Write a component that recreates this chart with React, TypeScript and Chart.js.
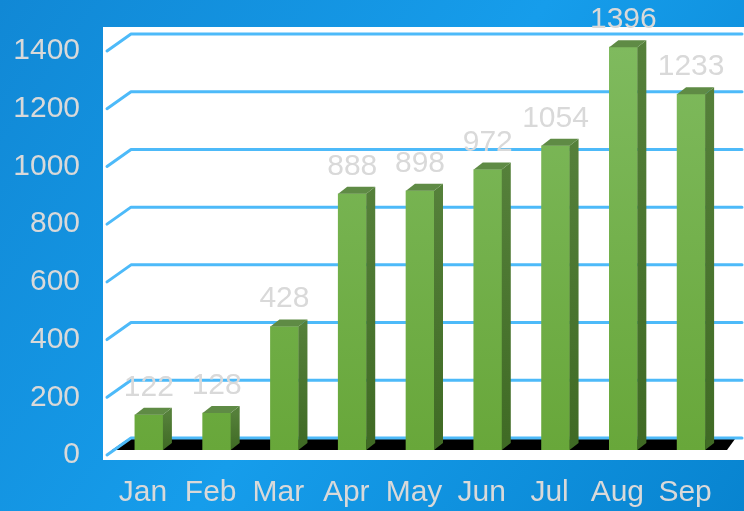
import React, { useEffect, useRef } from "react";
import { Chart, registerables } from "chart.js";

Chart.register(...registerables);

const months = ["Jan", "Feb", "Mar", "Apr", "May", "Jun", "Jul", "Aug", "Sep"];
const values = [122, 128, 428, 888, 898, 972, 1054, 1396, 1233];
const yMin = 0;
const yMax = 1400;
const yStep = 200;

const FONT = "'Liberation Sans', Arial, sans-serif";
const TEXT = "#d9d9d9";
const GRID = "#4dbaf9";
const DX = 9;
const DY = 7;

const decor = {
  id: "decor",
  beforeDraw(chart: any) {
    const { ctx, width, height, chartArea } = chart;
    ctx.save();
    const g = ctx.createLinearGradient(0, 0, width, height);
    g.addColorStop(0, "#1188d5");
    g.addColorStop(0.5, "#169deb");
    g.addColorStop(1, "#0884d0");
    ctx.fillStyle = g;
    ctx.fillRect(0, 0, width, height);
    ctx.fillStyle = "#ffffff";
    ctx.fillRect(chartArea.left - 12, chartArea.top - 19, width - (chartArea.left - 12), chartArea.bottom + 10 - (chartArea.top - 19));
    ctx.restore();
  },
  beforeDatasetsDraw(chart: any) {
    const { ctx, width, chartArea, scales } = chart;
    const y = scales.y;
    const L = chartArea.left;
    const R = chartArea.right;
    const B = chartArea.bottom;
    ctx.save();
    ctx.fillStyle = "#000000";
    ctx.beginPath();
    ctx.moveTo(L - 3, B);
    ctx.lineTo(R + 2, B);
    ctx.lineTo(R + 10, B - 11);
    ctx.lineTo(L + 13, B - 11);
    ctx.closePath();
    ctx.fill();
    ctx.strokeStyle = GRID;
    ctx.lineWidth = 3;
    ctx.lineCap = "round";
    ctx.lineJoin = "round";
    for (const t of y.ticks) {
      const py = y.getPixelForValue(t.value);
      ctx.beginPath();
      ctx.moveTo(L - 8, py + 5);
      ctx.lineTo(L + 16, py - 12);
      ctx.lineTo(width - 2, py - 12);
      ctx.stroke();
    }
    ctx.restore();
  },
  afterDatasetsDraw(chart: any) {
    const { ctx } = chart;
    const meta = chart.getDatasetMeta(0);
    ctx.save();
    meta.data.forEach((bar: any, i: number) => {
      const { x, y, base, width } = bar.getProps(["x", "y", "base", "width"], true);
      const l = x - width / 2;
      const r = x + width / 2;
      const sg = ctx.createLinearGradient(0, y, 0, base);
      sg.addColorStop(0, "#55803a");
      sg.addColorStop(1, "#3f6a24");
      ctx.fillStyle = sg;
      ctx.beginPath();
      ctx.moveTo(r, y);
      ctx.lineTo(r + DX, y - DY);
      ctx.lineTo(r + DX, base - DY);
      ctx.lineTo(r, base);
      ctx.closePath();
      ctx.fill();
      ctx.fillStyle = "#5f8b45";
      ctx.beginPath();
      ctx.moveTo(l, y);
      ctx.lineTo(l + DX, y - DY);
      ctx.lineTo(r + DX, y - DY);
      ctx.lineTo(r, y);
      ctx.closePath();
      ctx.fill();
      ctx.fillStyle = TEXT;
      ctx.font = `30px ${FONT}`;
      ctx.textAlign = "center";
      ctx.textBaseline = "alphabetic";
      ctx.fillText(String(values[i]), x, y - DY - 12);
    });
    ctx.restore();
  },
};

export default function App() {
  const ref = useRef<HTMLCanvasElement | null>(null);
  useEffect(() => {
    const canvas = ref.current;
    if (!canvas) return;
    const chart = new Chart(canvas, {
      type: "bar",
      data: {
        labels: months,
        datasets: [
          {
            data: values,
            barThickness: 28,
            borderWidth: 0,
            backgroundColor: (c: any) => {
              const { ctx, chartArea } = c.chart;
              if (!chartArea) return "#6aa83c";
              const g = ctx.createLinearGradient(0, chartArea.top, 0, chartArea.bottom);
              g.addColorStop(0, "#7fba5e");
              g.addColorStop(1, "#68a73a");
              return g;
            },
          },
        ],
      },
      options: {
        responsive: false,
        animation: false,
        events: [],
        layout: { padding: { top: 46, right: 19, left: 0, bottom: 0 } },
        plugins: { legend: { display: false }, tooltip: { enabled: false } },
        scales: {
          x: {
            grid: { display: false, drawTicks: false },
            border: { display: false },
            ticks: { color: TEXT, font: { family: FONT, size: 30 }, padding: 25, labelOffset: -6, maxRotation: 0, autoSkip: false },
            afterFit: (s: any) => {
              s.height = 61;
              s.paddingLeft = 0;
              s.paddingRight = 0;
            },
          },
          y: {
            min: yMin,
            max: yMax,
            grid: { display: false, drawTicks: false },
            border: { display: false },
            ticks: {
              stepSize: yStep,
              color: TEXT,
              font: { family: FONT, size: 30 },
              padding: 35,
              labelOffset: 5,
              callback: (v: any) => String(v),
            },
            afterFit: (s: any) => {
              s.width = 115;
              s.paddingTop = 0;
              s.paddingBottom = 0;
            },
          },
        },
      },
      plugins: [decor],
    });
    return () => chart.destroy();
  }, []);
  return (
    <div style={{ position: "absolute", left: 0, top: 0, width: 744, height: 511 }}>
      <canvas ref={ref} width={744} height={511} />
    </div>
  );
}
